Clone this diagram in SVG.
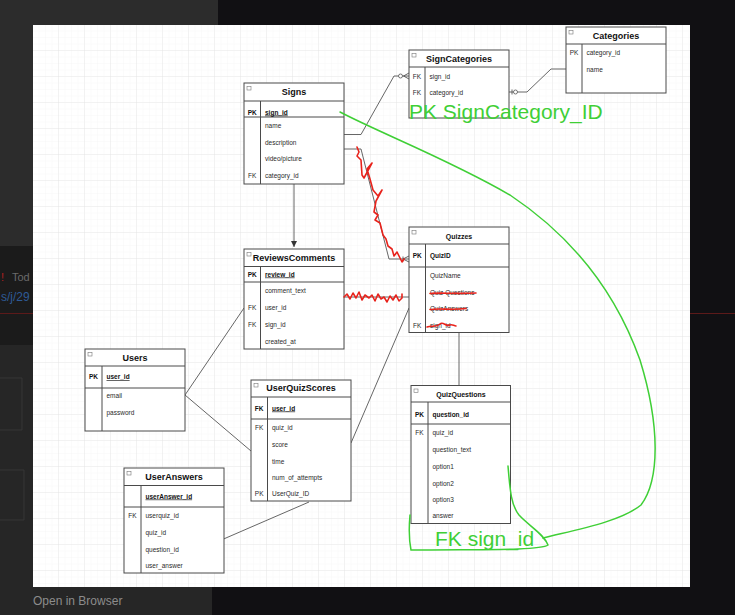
<svg xmlns="http://www.w3.org/2000/svg" width="735" height="615" viewBox="0 0 735 615">
<defs>
<pattern id="gmin" width="6.5" height="6.5" patternUnits="userSpaceOnUse" x="33" y="25">
<path d="M6.5 0V6.5M0 6.5H6.5" fill="none" stroke="#f3f3f3" stroke-width="0.6"/>
</pattern>
<pattern id="gmaj" width="26" height="26" patternUnits="userSpaceOnUse" x="33" y="25">
<path d="M26 0V26M0 26H26" fill="none" stroke="#e4e4e4" stroke-width="0.7"/>
</pattern>
<marker id="arr" markerWidth="8" markerHeight="8" refX="6" refY="3" orient="auto" markerUnits="userSpaceOnUse">
<path d="M0,0 L6,3 L0,6 Z" fill="#333"/>
</marker>
<style>
.box{fill:#fff;stroke:#4a4a4a;stroke-width:1}
.sep{stroke:#4a4a4a;stroke-width:1;fill:none}
.ico{fill:#fff;stroke:#777;stroke-width:0.6}
.ttl{font-family:"Liberation Sans",Arial,sans-serif;font-weight:bold;font-size:9px;fill:#111;text-anchor:middle}
.sm{font-size:7px}
.f{font-family:"Liberation Sans",Arial,sans-serif;font-size:6.5px;fill:#2a2a2a}
.k{text-anchor:middle}
.b{font-weight:bold;fill:#111}
.u{text-decoration:underline}
.con{fill:none;stroke:#555;stroke-width:0.9}
.red{fill:none;stroke:#e8231c;stroke-width:1.6;stroke-linejoin:round;stroke-linecap:round}
.grn{fill:none;stroke:#3fcf36;stroke-width:1.5;stroke-linecap:round}
.gt{font-family:"Liberation Sans",Arial,sans-serif;font-size:21px;fill:#3fcf36}
</style>
</defs>

<!-- screenshot background -->
<rect x="0" y="0" width="735" height="615" fill="#111013"/>
<rect x="0" y="0" width="218" height="246" fill="#2c2c2c"/>
<rect x="0" y="246" width="33" height="99" fill="#1b1b1b"/>
<rect x="0" y="345" width="33" height="242" fill="#262626"/>
<rect x="0" y="587" width="212" height="28" fill="#262626"/>
<path d="M0 313.5H33M690 313.5H735" stroke="#5c1a1a" stroke-width="1"/>
<path d="M0 378H22V430H0M0 470H24V520H0" fill="none" stroke="#3a3a3a" stroke-width="0.8"/>
<text x="1" y="281" font-family="Liberation Sans, Arial, sans-serif" font-size="11" fill="#b02020">!</text>
<text x="12" y="281" font-family="Liberation Sans, Arial, sans-serif" font-size="11" fill="#6a6a6a">Tod</text>
<text x="1" y="301" font-family="Liberation Sans, Arial, sans-serif" font-size="12" fill="#2e5a96">s/j/29</text>
<text x="33" y="605" font-family="Liberation Sans, Arial, sans-serif" font-size="12" fill="#8c8c8c">Open in Browser</text>

<!-- canvas -->
<rect x="33" y="25" width="657" height="562" fill="#ffffff"/>
<rect x="33" y="25" width="657" height="562" fill="url(#gmin)"/>
<rect x="33" y="25" width="657" height="562" fill="url(#gmaj)"/>

<!-- connectors -->
<g id="connectors">
<path class="con" d="M344 134.5H361L394 76H409"/>
<circle cx="400.5" cy="76" r="2" fill="#fff" stroke="#555" stroke-width="0.8"/>
<path class="con" d="M403.5 76L409 73M403.5 76L409 79"/>
<path class="con" d="M509 92H527L551 69H566"/>
<path class="con" d="M512 89.5V94.5"/>
<circle cx="515.5" cy="92" r="2" fill="#fff" stroke="#555" stroke-width="0.8"/>
<path class="con" d="M344 149H361L389 259H409"/>
<path class="con" d="M403 256.5V261.5M403 259L409 256M403 259L409 262"/>
<path class="con" d="M294 184V247" marker-end="url(#arr)"/>
<path class="con" d="M344 297H409"/>
<path class="con" d="M185 395L244 308"/>
<path class="con" d="M185 395L251 451"/>
<path class="con" d="M351 443L409 308"/>
<path class="con" d="M459 332.5V385.5"/>
<path class="con" d="M309 502L223.6 539"/>
</g>

<!-- Signs -->
<g id="signs">
<rect class="box" x="244" y="83" width="100" height="101"/>
<path class="sep" d="M244 101H344M244 117H344M260.5 101V184"/>
<rect class="ico" x="247" y="86.5" width="4" height="3.5"/>
<text class="ttl" x="294" y="95.2">Signs</text>
<text class="f k b" x="252.2" y="114.5">PK</text>
<text class="f b u" x="265" y="114.5">sign_id</text>
<text class="f" x="265" y="128">name</text>
<text class="f" x="265" y="144.5">description</text>
<text class="f" x="265" y="160.5">video/picture</text>
<text class="f k" x="252.2" y="177.5">FK</text>
<text class="f" x="265" y="177.5">category_id</text>
</g>

<!-- SignCategories -->
<g id="signcategories">
<rect class="box" x="409" y="50" width="100" height="68"/>
<path class="sep" d="M409 67H509M425 67V118"/>
<rect class="ico" x="412" y="53.5" width="4" height="3.5"/>
<text class="ttl" x="459" y="61.8">SignCategories</text>
<text class="f k" x="417" y="78.5">FK</text>
<text class="f" x="429.5" y="78.5">sign_id</text>
<text class="f k" x="417" y="94.5">FK</text>
<text class="f" x="429.5" y="94.5">category_id</text>
</g>

<!-- Categories -->
<g id="categories">
<rect class="box" x="566" y="27" width="100" height="66"/>
<path class="sep" d="M566 44H666M582 44V93"/>
<rect class="ico" x="569" y="30.5" width="4" height="3.5"/>
<text class="ttl" x="616" y="38.5">Categories</text>
<text class="f k" x="574" y="54.5">PK</text>
<text class="f" x="586.5" y="54.5">category_id</text>
<text class="f" x="586.5" y="71.5">name</text>
</g>

<!-- Quizzes -->
<g id="quizzes">
<rect class="box" x="409" y="227" width="100" height="105.5"/>
<path class="sep" d="M409 244H509M409 267H509M425.5 244V332.5"/>
<rect class="ico" x="412" y="230.5" width="4" height="3.5"/>
<text class="ttl sm" x="459" y="238.5">Quizzes</text>
<text class="f k b" x="417.2" y="257.5">PK</text>
<text class="f b" x="430" y="257.5">QuizID</text>
<text class="f" x="430" y="277.5">QuizName</text>
<text class="f" x="430" y="294.5">Quiz Questions</text>
<text class="f" x="430" y="311">QuizAnswers</text>
<text class="f k" x="417.2" y="327.5">FK</text>
<text class="f" x="430" y="327.5">sign_id</text>
</g>

<!-- ReviewsComments -->
<g id="reviewscomments">
<rect class="box" x="244" y="249" width="100" height="100"/>
<path class="sep" d="M244 266.5H344M244 282H344M260.5 266.5V349"/>
<rect class="ico" x="247" y="252.5" width="4" height="3.5"/>
<text class="ttl" x="294" y="261.3">ReviewsComments</text>
<text class="f k b" x="252.2" y="276.5">PK</text>
<text class="f b u" x="265" y="276.5">review_id</text>
<text class="f" x="265" y="293">comment_text</text>
<text class="f k" x="252.2" y="309.5">FK</text>
<text class="f" x="265" y="309.5">user_id</text>
<text class="f k" x="252.2" y="326.5">FK</text>
<text class="f" x="265" y="326.5">sign_id</text>
<text class="f" x="265" y="343.5">created_at</text>
</g>

<!-- Users -->
<g id="users">
<rect class="box" x="85" y="349" width="100" height="82"/>
<path class="sep" d="M85 366H185M85 388H185M102 366V431"/>
<rect class="ico" x="88" y="352.5" width="4" height="3.5"/>
<text class="ttl" x="135" y="360.8">Users</text>
<text class="f k b" x="93.5" y="379">PK</text>
<text class="f b u" x="106.5" y="379">user_id</text>
<text class="f" x="106.5" y="397.5">email</text>
<text class="f" x="106.5" y="414.5">password</text>
</g>

<!-- UserQuizScores -->
<g id="userquizscores">
<rect class="box" x="251" y="380" width="100" height="121"/>
<path class="sep" d="M251 397H351M251 419H351M267.5 397V501"/>
<rect class="ico" x="254" y="383.5" width="4" height="3.5"/>
<text class="ttl" x="301" y="391.3">UserQuizScores</text>
<text class="f k b" x="259.2" y="410.5">FK</text>
<text class="f b u" x="272" y="410.5">user_id</text>
<text class="f k" x="259.2" y="430">FK</text>
<text class="f" x="272" y="430">quiz_id</text>
<text class="f" x="272" y="446.5">score</text>
<text class="f" x="272" y="463.5">time</text>
<text class="f" x="272" y="479.5">num_of_attempts</text>
<text class="f k" x="259.2" y="495.5">PK</text>
<text class="f" x="272" y="495.5">UserQuiz_ID</text>
</g>

<!-- QuizQuestions -->
<g id="quizquestions">
<rect class="box" x="411" y="385.5" width="99.5" height="138"/>
<path class="sep" d="M411 402H510.5M411 424H510.5M428 402V523.5"/>
<rect class="ico" x="414" y="389" width="4" height="3.5"/>
<text class="ttl sm" x="461" y="396.5">QuizQuestions</text>
<text class="f k b" x="419.5" y="417">PK</text>
<text class="f b" x="432.5" y="417">question_id</text>
<text class="f k" x="419.5" y="435">FK</text>
<text class="f" x="432.5" y="435">quiz_id</text>
<text class="f" x="432.5" y="451.5">question_text</text>
<text class="f" x="432.5" y="468.5">option1</text>
<text class="f" x="432.5" y="485.5">option2</text>
<text class="f" x="432.5" y="501.5">option3</text>
<text class="f" x="432.5" y="518">answer</text>
</g>

<!-- UserAnswers -->
<g id="useranswers">
<rect class="box" x="124" y="468" width="100" height="105"/>
<path class="sep" d="M124 485.5H224M124 507H224M141 485.5V573"/>
<rect class="ico" x="127" y="471.5" width="4" height="3.5"/>
<text class="ttl" x="174" y="480.3">UserAnswers</text>
<text class="f b u" x="145.5" y="498.5">userAnswer_id</text>
<text class="f k" x="132.5" y="517.5">FK</text>
<text class="f" x="145.5" y="517.5">userquiz_id</text>
<text class="f" x="145.5" y="534.5">quiz_id</text>
<text class="f" x="145.5" y="551.5">question_id</text>
<text class="f" x="145.5" y="567.5">user_answer</text>
</g>

<!-- red scribbles -->
<g id="red-marks">
<polyline class="red" points="357,147 359,152 357,156 361,160 362,175 364,178 372,163 367,169 370,179 373,190 378,196 382,190 376,201 374,212 378,215 375,220 380,223 383,235 386,239 388,246 392,249 394,256 397,252 400,258 402,262 404,259"/>
<polyline class="red" points="344,297 347,294 350,299 353,293 356,298 359,292 362,300 365,295 369,298 372,295 375,301 378,294 381,299 384,297 387,302 390,296 393,300 396,295 399,301 402,298 402,294"/>
<path class="red" d="M430 293.5C440 292.5 455 294 476 293"/>
<path class="red" stroke-width="2.4" d="M430 309.5C440 308 452 310.5 466 308.5"/>
<path class="red" d="M427 327C432 325 436 328 440 324C443 321 446 327 450 325C452 324 454 326 456 326"/>
</g>

<!-- green annotations -->
<g id="green-notes">
<path class="grn" d="M340 112C380 133 450 160 510 195C570 235 615 290 640 360C660 425 660 480 641 505C620 522 575 530 543 538"/>
<path class="grn" d="M508 466C510 490 511 505 519 515C529 526 544 534 548 545C540 551 470 549 411 550C409 540 409 526 410 515"/>
<text class="gt" x="409" y="119">PK SignCategory_ID</text>
<text class="gt" x="435" y="546">FK sign_id</text>
</g>
</svg>
